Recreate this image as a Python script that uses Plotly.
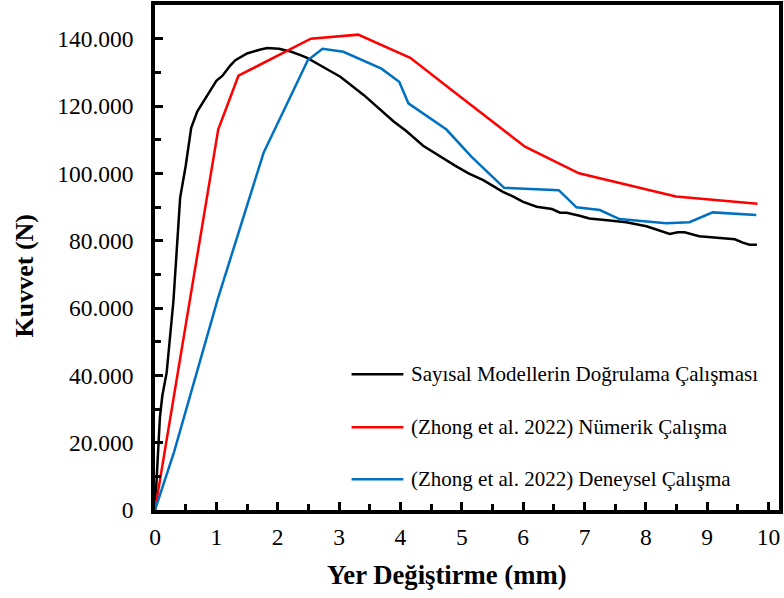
import plotly.graph_objects as go

# Displacement (mm) and force (N) for each study
names = [
    "Sayısal Modellerin Doğrulama Çalışması",
    "(Zhong et al. 2022) Nümerik Çalışma",
    "(Zhong et al. 2022) Deneysel Çalışma",
]
colors = ["#000000", "#FF0000", "#0070C0"]

model_x = [0, 0.04, 0.08, 0.12, 0.19, 0.30, 0.41, 0.50, 0.59, 0.69, 0.85, 1.00, 1.10,
           1.23, 1.31, 1.50, 1.72, 1.83, 2.02, 2.21, 2.37, 2.48, 2.69, 3.02, 3.40,
           3.67, 3.89, 4.10, 4.37, 4.89, 5.11, 5.35, 5.67, 5.84, 6.00, 6.22, 6.47,
           6.60, 6.71, 6.92, 7.08, 7.41, 7.68, 8.01, 8.17, 8.39, 8.52, 8.63, 8.87,
           9.09, 9.30, 9.45, 9.58, 9.69, 9.81]
model_y = [0, 12800, 27500, 34000, 40800, 62000, 92800, 102200, 113500, 118400,
           123300, 127500, 129000, 132100, 133600, 135600, 136800, 137200, 137000,
           136200, 135100, 134300, 132100, 128700, 123300, 118900, 115400, 112500,
           108200, 102300, 100000, 98000, 94500, 93100, 91500, 90100, 89400, 88300,
           88300, 87400, 86600, 86000, 85500, 84300, 83400, 82000, 82500, 82500,
           81300, 81000, 80800, 80400, 79400, 78800, 78800]

numeric_x = [0, 1.03, 1.36, 2.54, 3.31, 4.16, 4.85, 6.03, 6.91, 8.49, 9.82]
numeric_y = [0, 113000, 129000, 140000, 141200, 134300, 124500, 107900, 100000,
             93100, 91000]

test_x = [0, 0.31, 1.02, 1.77, 2.49, 2.73, 3.07, 3.69, 3.98, 4.13, 4.75, 5.16, 5.69,
          6.58, 6.87, 7.25, 7.57, 8.33, 8.71, 9.09, 9.80]
test_y = [0, 17200, 62500, 106100, 133600, 137000, 136100, 131100, 127200, 120800,
          113000, 104900, 95700, 95000, 89900, 89100, 86400, 85200, 85500, 88400,
          87600]

series = [(model_x, model_y), (numeric_x, numeric_y), (test_x, test_y)]

FONT = "'Liberation Serif', 'Times New Roman', Times, serif"

fig = go.Figure()
for (xs, ys), name, c in zip(series, names, colors):
    fig.add_trace(go.Scatter(x=xs, y=ys, mode="lines", name=name,
                             line=dict(color=c, width=2.5), showlegend=False))

# Legend drawn as line samples with labels inside the plot area
legend_y = [0.2686, 0.1637, 0.0609]
for name, c, ly in zip(names, colors, legend_y):
    fig.add_shape(type="line", xref="paper", yref="paper",
                  x0=0.315, x1=0.398, y0=ly, y1=ly,
                  line=dict(color=c, width=2.5))
    fig.add_annotation(text=name, xref="paper", yref="paper", x=0.4075, y=ly,
                       xanchor="left", yanchor="middle", showarrow=False,
                       font=dict(family=FONT, size=21, color="#000000"))

# Axis titles
fig.add_annotation(text="<b>Kuvvet (N)</b>", xref="paper", yref="paper",
                   x=-0.2095, y=0.463, textangle=-90, showarrow=False,
                   xanchor="center", yanchor="middle",
                   font=dict(family=FONT, size=26, color="#000000"))
fig.add_annotation(text="<b>Yer Değiştirme (mm)</b>", xref="paper", yref="paper",
                   x=0.4686, y=-0.1297, showarrow=False,
                   xanchor="center", yanchor="middle",
                   font=dict(family=FONT, size=26.7, color="#000000"))

axis_common = dict(
    showgrid=False, zeroline=False, showline=True, linecolor="#000000",
    linewidth=3.5, mirror=True, ticks="inside", ticklen=8, tickwidth=2.5,
    tickcolor="#000000", tickfont=dict(family=FONT, size=23.5, color="#000000"),
)

fig.update_xaxes(range=[0, 10.17], tick0=0, dtick=1, ticklabelstandoff=3,
                 minor=dict(dtick=0.5, ticks="inside", ticklen=6, tickwidth=2.5,
                            tickcolor="#000000"),
                 **axis_common)
fig.update_yaxes(range=[0, 150000], tick0=0, dtick=20000, tickformat=",d",
                 ticklabelstandoff=13,
                 minor=dict(dtick=10000, ticks="inside", ticklen=6, tickwidth=2.5,
                            tickcolor="#000000"),
                 **axis_common)

fig.update_layout(
    width=784, height=598,
    margin=dict(l=155, r=4, t=1, b=88),
    paper_bgcolor="#FFFFFF", plot_bgcolor="#FFFFFF",
    separators=",.",
    font=dict(family=FONT, color="#000000"),
)

fig.write_html("out.html")
